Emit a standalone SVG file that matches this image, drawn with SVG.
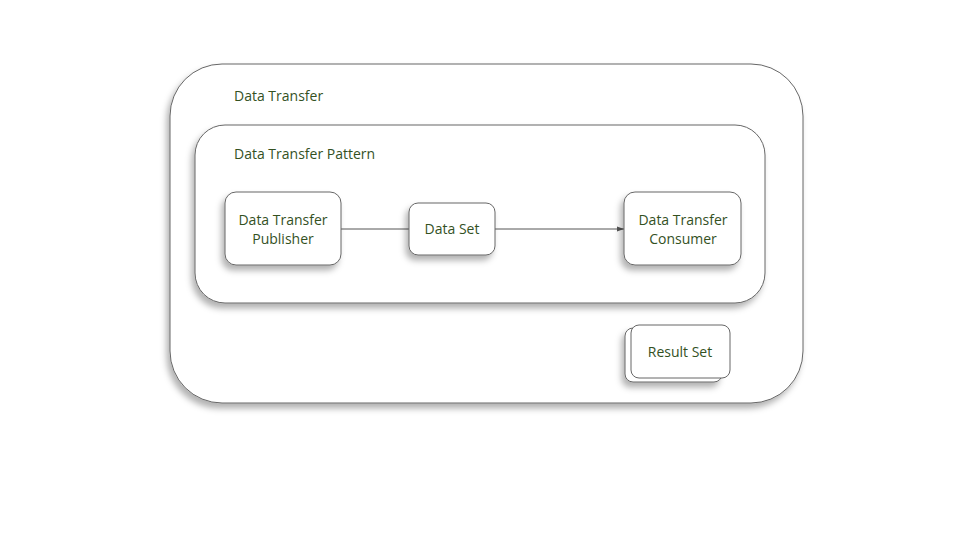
<svg xmlns="http://www.w3.org/2000/svg" width="960" height="540" viewBox="0 0 960 540">
<defs>
<style>
.box{fill:#fff;stroke:#666;stroke-width:1;filter:url(#sh)}
.t{font-family:"Open Sans","Noto Sans","Liberation Sans",sans-serif;font-size:14px;fill:#34511f}
.c{text-anchor:middle}
.ln{stroke:#555;stroke-width:1;fill:none}
</style>
<filter id="sh" x="-20%" y="-20%" width="140%" height="150%">
<feDropShadow dx="-3" dy="5" stdDeviation="3" flood-color="#000" flood-opacity="0.3"/>
</filter>
<marker id="ar" markerWidth="8" markerHeight="6" refX="7" refY="3" orient="auto" markerUnits="userSpaceOnUse">
<path d="M0,0.5 L7,3 L0,5.5 Z" fill="#555"/>
</marker>
</defs>
<g id="data-transfer">
<rect class="box" x="170" y="64" width="633" height="339" rx="52"/>
<text class="t" x="234" y="101">Data Transfer</text>
</g>
<g id="data-transfer-pattern">
<rect class="box" x="195" y="125" width="570" height="178" rx="30"/>
<text class="t" x="234" y="159">Data Transfer Pattern</text>
</g>
<g id="connectors">
<line class="ln" x1="341" y1="229" x2="409" y2="229"/>
<line class="ln" x1="495" y1="229" x2="624" y2="229" marker-end="url(#ar)"/>
</g>
<g id="publisher">
<rect class="box" x="225" y="192" width="116" height="73" rx="11"/>
<text class="t c" x="283" y="225">Data Transfer</text>
<text class="t c" x="283" y="244">Publisher</text>
</g>
<g id="data-set">
<rect class="box" x="409" y="203" width="86" height="52" rx="9"/>
<text class="t c" x="452" y="234">Data Set</text>
</g>
<g id="consumer">
<rect class="box" x="624" y="192" width="117" height="73" rx="11"/>
<text class="t c" x="683" y="225">Data Transfer</text>
<text class="t c" x="683" y="244">Consumer</text>
</g>
<g id="result-set">
<rect class="box" x="625" y="328" width="97" height="54" rx="8"/>
<rect x="631" y="325" width="99" height="53" rx="8" fill="#fff" stroke="#666" stroke-width="1"/>
<text class="t c" x="680" y="357">Result Set</text>
</g>
</svg>
